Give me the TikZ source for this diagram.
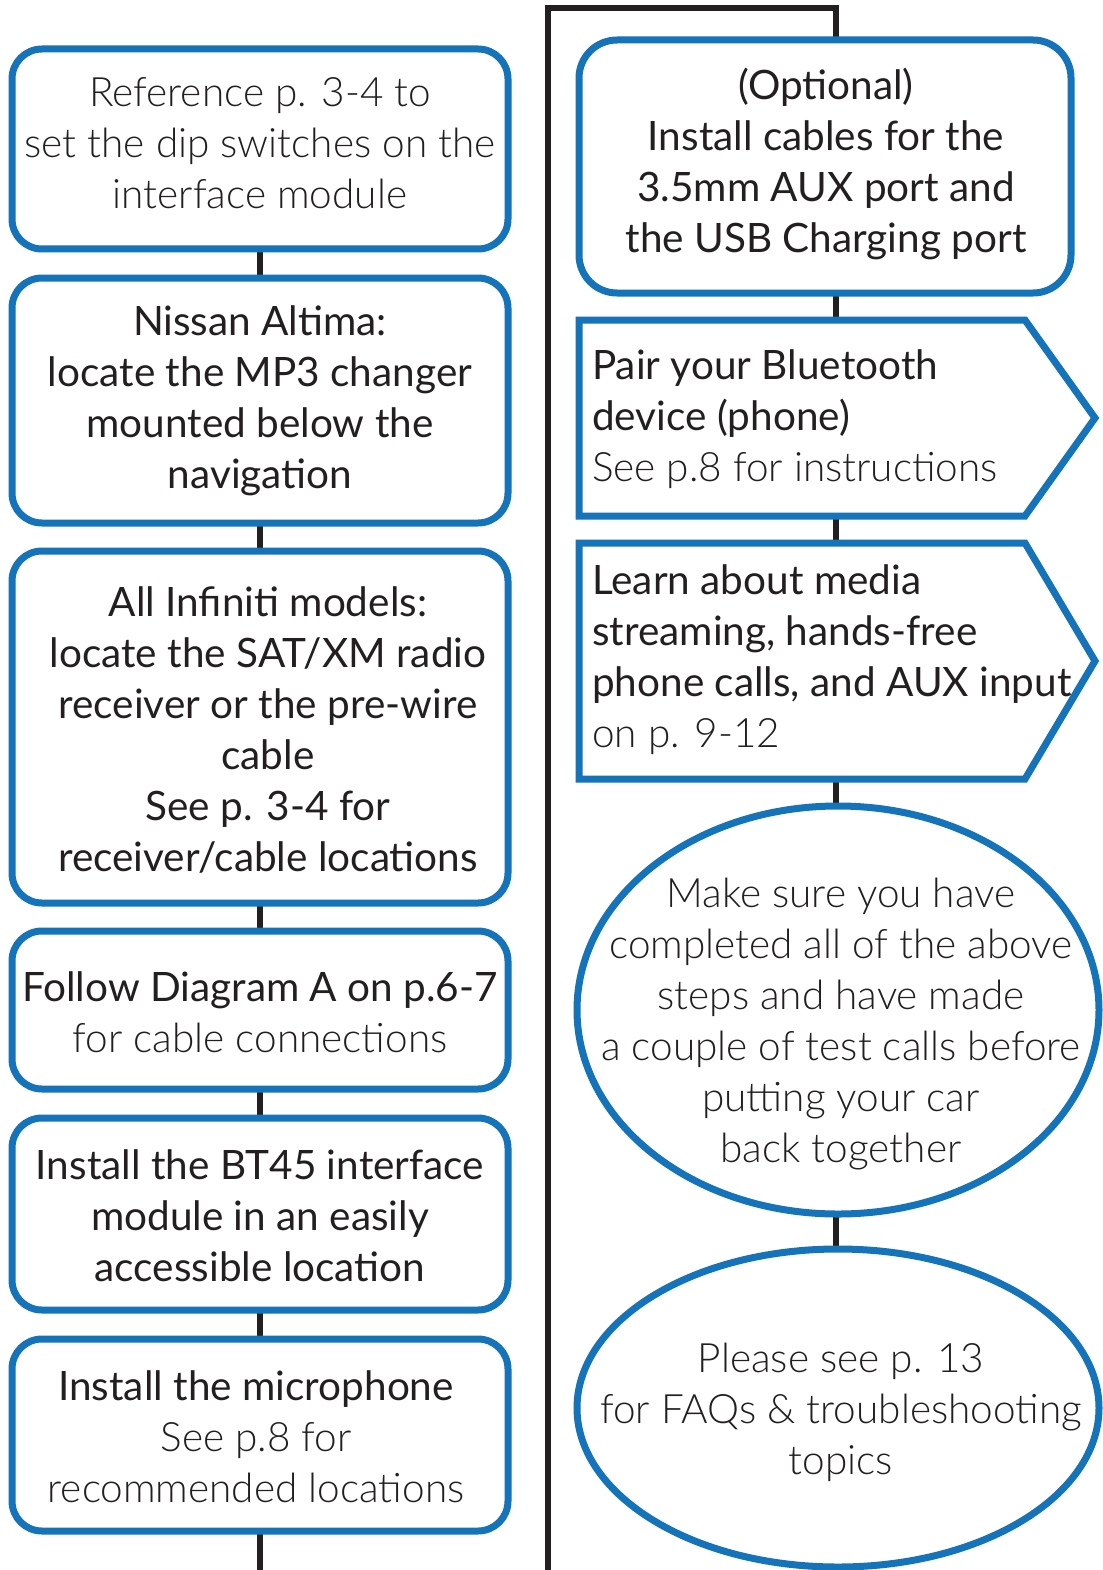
\documentclass[tikz,border=0pt]{standalone}
\usepackage{fontspec}
\setmainfont{Lato}
\IfFontExistsTF{Lato Light}{\newfontfamily\lt{Lato Light}}{\newfontfamily\lt{Lato}}
\usetikzlibrary{shapes.geometric}
\definecolor{bblue}{HTML}{1473B9}
\definecolor{ink}{HTML}{231F20}
\pgfdeclarelayer{back}
\pgfdeclarelayer{bg}
\pgfsetlayers{back,bg,main}
\begin{document}
\begin{tikzpicture}[x=1pt,y=-1pt,
  box/.style={draw=bblue,line width=7pt,rounded corners=30pt,fill=white,inner sep=0pt,outer sep=0pt,minimum width=496pt},
  oval/.style={ellipse,draw=bblue,line width=7pt,fill=white,inner sep=0pt,outer sep=0pt,minimum width=522pt},
  flat/.style={inner sep=0pt,outer sep=0pt,minimum width=446pt},
  arrowbox/.style={draw=bblue,line width=7pt,fill=white,line join=miter},
  txt/.style={text=ink,align=center,inner sep=0pt,font=\fontsize{40.5}{51}\selectfont},
  ltxt/.style={text=ink,align=left,inner sep=0pt,anchor=west,font=\fontsize{40.5}{51}\selectfont},
  wire/.style={draw=ink,line width=6pt}]
\useasboundingbox (0,0) rectangle (1102,1570);
\begin{pgfonlayer}{back}
\fill[white] (0,0) rectangle (1102,1570);
\end{pgfonlayer}

% left column
\node[box,minimum height=200pt] (L1) at (260,149) {};
\node[box,minimum height=245pt] (L2) at (260,400.5) {};
\node[box,minimum height=352pt] (L3) at (260,727) {};
\node[box,minimum height=158pt] (L4) at (260,1010) {};
\node[box,minimum height=192pt] (L5) at (260,1214) {};
\node[box,minimum height=192pt] (L6) at (260,1435) {};

\node[txt] (t1) at (260,143) {\lt Reference p. 3-4 to\\\lt set the dip switches on the\\\lt interface module};
\node[txt] (t2) at (260,401) {Nissan Altima:\\locate the MP3 changer\\mounted below the\\navigation};
\node[txt] (t3) at (268,730) {All Infiniti models:\\locate the SAT/XM radio\\receiver or the pre-wire\\cable\\See p. 3-4 for\\receiver/cable locations};
\node[txt] (t4) at (260,1012) {Follow Diagram A on p.6-7\\\lt for cable connections};
\node[txt] (t5) at (260,1216) {Install the BT45 interface\\module in an easily\\accessible location};
\node[txt] (t6) at (256,1437) {Install the microphone\\\lt See p.8 for\\\lt recommended locations};

% right column
\node[box,rounded corners=38pt,minimum width=492pt,minimum height=253pt] (R1) at (825,166.5) {};
\node[flat,minimum height=196pt] (R2) at (802,418) {};
\node[flat,minimum height=236pt] (R3) at (802,661) {};
\draw[arrowbox] (R2.north west) -- (R2.north east) -- ([xshift=70pt]R2.east) -- (R2.south east) -- (R2.south west) -- cycle;
\draw[arrowbox] (R3.north west) -- (R3.north east) -- ([xshift=70pt]R3.east) -- (R3.south east) -- (R3.south west) -- cycle;
\node[oval,minimum height=408pt] (R4) at (838,1010) {};
\node[oval,minimum height=318pt] (R5) at (838,1408) {};

\node[txt] (u1) at (826,164) {(Optional)\\Install cables for the\\3.5mm AUX port and\\the USB Charging port};
\node[ltxt] (u2) at (592,419) {Pair your Bluetooth\\device (phone)\\\lt See p.8 for instructions};
\node[ltxt] (u3) at (592,660) {Learn about media\\streaming, hands-free\\phone calls, and AUX input\\\lt on p. 9-12};
\node[txt] (u4) at (841,1024) {\lt Make sure you have\\\lt completed all of the above\\\lt steps and have made\\\lt a couple of test calls before\\\lt putting your car\\\lt back together};
\node[txt] (u5) at (841,1412) {\lt Please see p. 13\\\lt for FAQs \& troubleshooting\\\lt topics};

% connectors
\coordinate (frameB) at (548,1575);
\coordinate (frameTL) at (548,8);
\coordinate (frameTR) at (836,8);
\coordinate (spineR) at (836,0);
\coordinate (leftEnd) at (260,1575);
\begin{pgfonlayer}{bg}
\draw[wire] (L1.south) -- (L2.north);
\draw[wire] (L2.south) -- (L3.north);
\draw[wire] (L3.south) -- (L4.north);
\draw[wire] (L4.south) -- (L5.north);
\draw[wire] (L5.south) -- (L6.north);
\draw[wire] (L6.south) -- (leftEnd);
\draw[wire,line join=miter] (frameB) -- (frameTL) -- (frameTR) -- (spineR |- R1.north);
\draw[wire] (spineR |- R1.south) -- (spineR |- R2.north);
\draw[wire] (spineR |- R2.south) -- (spineR |- R3.north);
\draw[wire] (spineR |- R3.south) -- (spineR |- R4.north);
\draw[wire] (spineR |- R4.south) -- (spineR |- R5.north);
\end{pgfonlayer}
\end{tikzpicture}
\end{document}
